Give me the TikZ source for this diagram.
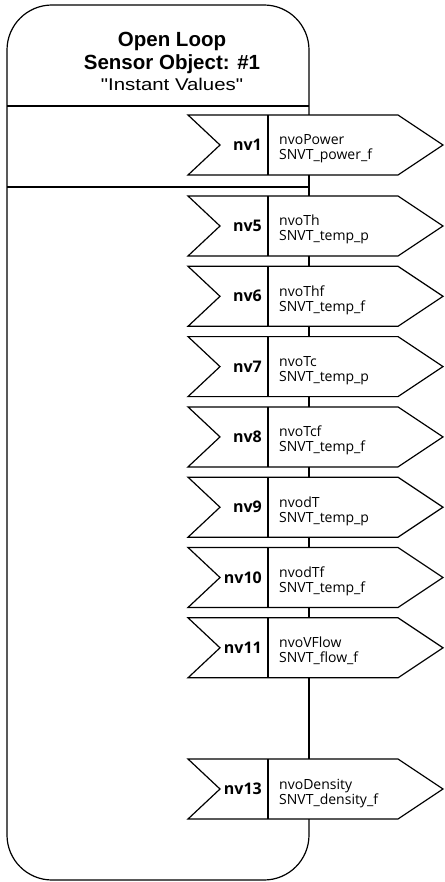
\documentclass[tikz,border=0pt]{standalone}
\usepackage{fontspec}
\usepackage{graphicx}
\setmainfont{Liberation Sans}
\newfontfamily\boxfont{Open Sans}
\tikzset{
  frame/.style={line width=1.2pt, draw=black},
  nvshape/.style={line width=1.2pt, draw=black, fill=white, line join=miter},
  nvlabel/.style={font=\boxfont\bfseries\fontsize{16}{18}\selectfont, anchor=base east, inner sep=0pt},
  nvtext/.style={font=\boxfont\fontsize{14}{16}\selectfont, anchor=base west, inner sep=0pt},
  titlebold/.style={font=\bfseries\fontsize{20.5}{24}\selectfont, anchor=base, inner sep=0pt},
  titlereg/.style={font=\fontsize{17}{20}\selectfont, anchor=base, inner sep=0pt},
}
\newcommand\nvbox[5]{%
  \draw[nvshape] (188,#2) -- (398,#2) -- (443,{#2+30}) -- (398,{#2+60}) -- (188,{#2+60}) -- (220,{#2+30}) -- cycle;
  \draw[nvshape] (268,#2) -- (268,{#2+60});
  \coordinate (#1-top) at (309,#2);
  \coordinate (#1-bot) at (309,{#2+60});
  \node[nvlabel] (#1-label) at (262,{#2+35.5}) {#3};
  \node[nvtext] (#1-name) at (279,{#2+30}) {#4};
  \node[nvtext] (#1-type) at (279,{#2+45}) {#5};
}
\begin{document}
\begin{tikzpicture}[x=1pt,y=-1pt]
\useasboundingbox (0,0) rectangle (444,882);
% boxes
\nvbox{nv1}{115}{nv1}{nvoPower}{SNVT\_power\_f}
\nvbox{nv5}{196}{nv5}{nvoTh}{SNVT\_temp\_p}
\nvbox{nv6}{266.3}{nv6}{nvoThf}{SNVT\_temp\_f}
\nvbox{nv7}{336.6}{nv7}{nvoTc}{SNVT\_temp\_p}
\nvbox{nv8}{406.9}{nv8}{nvoTcf}{SNVT\_temp\_f}
\nvbox{nv9}{477.2}{nv9}{nvodT}{SNVT\_temp\_p}
\nvbox{nv10}{547.5}{nv10}{nvodTf}{SNVT\_temp\_f}
\nvbox{nv11}{617.8}{nv11}{nvoVFlow}{SNVT\_flow\_f}
\nvbox{nv13}{759}{nv13}{nvoDensity}{SNVT\_density\_f}
% outer frame
\draw[frame, rounded corners=45pt] (nv1-top) -- (309,5) -- (7,5) -- (7,880) -- (309,880) -- (nv13-bot);
% dividers
\coordinate (d1l) at (7,106);
\coordinate (d1r) at (309,106);
\coordinate (d2l) at (7,187);
\coordinate (d2r) at (309,187);
\draw[frame] (d1l) -- (d1r);
\draw[frame] (d2l) -- (d2r);
% spine connectors
\draw[frame] (nv1-bot) -- (nv5-top);
\draw[frame] (nv5-bot) -- (nv6-top);
\draw[frame] (nv6-bot) -- (nv7-top);
\draw[frame] (nv7-bot) -- (nv8-top);
\draw[frame] (nv8-bot) -- (nv9-top);
\draw[frame] (nv9-bot) -- (nv10-top);
\draw[frame] (nv10-bot) -- (nv11-top);
\draw[frame] (nv11-bot) -- (nv13-top);
% title
\node[titlebold] (t1) at (172,47) {Open Loop};
\node[titlebold] (t2) at (172,70) {Sensor Object: \#1};
\node[titlereg] (t3) at (172,91) {\scalebox{1.2}[1]{\textquotedbl Instant Values\textquotedbl}};
\end{tikzpicture}
\end{document}
